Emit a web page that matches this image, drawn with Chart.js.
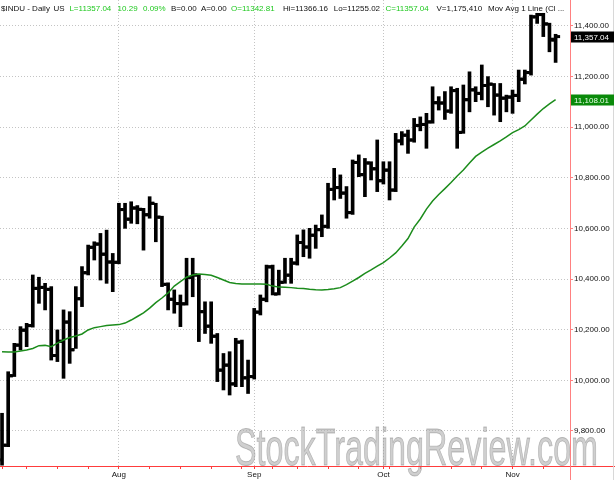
<!DOCTYPE html>
<html><head><meta charset="utf-8">
<script src="https://cdn.jsdelivr.net/npm/chart.js@4"></script>
<style>html,body{margin:0;padding:0;background:#fff}#wrap{width:615px;height:480px;position:relative}</style>
</head><body><div id="wrap"><canvas id="c" width="615" height="480"></canvas></div>
<script>
const dates = [
 '2010-07-06','2010-07-07','2010-07-08','2010-07-09','2010-07-12','2010-07-13','2010-07-14','2010-07-15','2010-07-16','2010-07-19',
 '2010-07-20','2010-07-21','2010-07-22','2010-07-23','2010-07-26','2010-07-27','2010-07-28','2010-07-29','2010-07-30','2010-08-02',
 '2010-08-03','2010-08-04','2010-08-05','2010-08-06','2010-08-09','2010-08-10','2010-08-11','2010-08-12','2010-08-13','2010-08-16',
 '2010-08-17','2010-08-18','2010-08-19','2010-08-20','2010-08-23','2010-08-24','2010-08-25','2010-08-26','2010-08-27','2010-08-30',
 '2010-08-31','2010-09-01','2010-09-02','2010-09-03','2010-09-07','2010-09-08','2010-09-09','2010-09-10','2010-09-13','2010-09-14',
 '2010-09-15','2010-09-16','2010-09-17','2010-09-20','2010-09-21','2010-09-22','2010-09-23','2010-09-24','2010-09-27','2010-09-28',
 '2010-09-29','2010-09-30','2010-10-01','2010-10-04','2010-10-05','2010-10-06','2010-10-07','2010-10-08','2010-10-11','2010-10-12',
 '2010-10-13','2010-10-14','2010-10-15','2010-10-18','2010-10-19','2010-10-20','2010-10-21','2010-10-22','2010-10-25','2010-10-26',
 '2010-10-27','2010-10-28','2010-10-29','2010-11-01','2010-11-02','2010-11-03','2010-11-04','2010-11-05','2010-11-08','2010-11-09',
 '2010-11-10'];
const opens = [
 9686,9744,10018,10139,10198,10216,10363,10367,10359,10098,
 10154,10230,10121,10322,10425,10525,10538,10498,10467,10466,
 10674,10636,10680,10675,10654,10699,10644,10379,10320,10303,
 10302,10406,10416,10271,10214,10174,10040,10060,9986,10151,
 10010,10015,10269,10320,10448,10341,10387,10415,10463,10544,
 10526,10573,10595,10608,10754,10761,10739,10662,10860,10812,
 10858,10835,10788,10830,10751,10945,10968,10949,11006,11010,
 11020,11096,11095,11063,11144,10979,11108,11147,11133,11164,
 11169,11126,11114,11118,11125,11189,11215,11435,11444,11407,
 11342.81];
const highs = [
 9870,10034,10146,10212,10225,10416,10407,10383,10370,10199,
 10278,10271,10370,10449,10534,10547,10580,10593,10501,10699,
 10699,10705,10690,10679,10725,10699,10648,10385,10357,10337,
 10482,10482,10416,10310,10310,10185,10106,10113,10166,10159,
 10080,10284,10337,10455,10455,10435,10482,10482,10574,10594,
 10600,10613,10653,10778,10837,10811,10765,10870,10890,10876,
 10863,10949,10863,10863,10975,10982,10988,11034,11040,11054,
 11159,11120,11140,11159,11153,11166,11218,11159,11245,11199,
 11172,11172,11126,11146,11225,11225,11442,11449,11449,11410,
 11366.16];
const lows = [
 9665,9738,10015,10120,10133,10210,10304,10278,10080,10074,
 10008,10067,10126,10291,10416,10475,10396,10383,10350,10460,
 10600,10620,10618,10514,10640,10547,10370,10278,10265,10212,
 10297,10330,10153,10185,10146,9995,9962,9942,9975,9975,
 9948,10005,10258,10310,10337,10337,10383,10383,10455,10488,
 10482,10521,10567,10600,10712,10718,10640,10655,10804,10725,
 10791,10745,10775,10712,10745,10929,10896,10940,10985,10916,
 11015,11067,11030,11054,10916,10975,11060,11100,11107,11080,
 11047,11021,11060,11054,11100,11170,11205,11409,11357,11297,
 11255.02];
const closes = [
 9743.62,10018.28,10138.99,10198.03,10216.27,10363.02,10366.72,10359.31,10097.90,10154.43,
 10229.96,10120.53,10322.30,10424.62,10525.43,10537.69,10497.88,10467.16,10465.94,10674.38,
 10636.38,10680.43,10674.98,10653.56,10698.75,10644.25,10378.83,10319.95,10303.15,10302.01,
 10405.85,10415.54,10271.21,10213.62,10174.41,10040.45,10060.06,9985.81,10150.65,10009.73,
 10014.72,10269.47,10320.10,10447.93,10340.69,10387.01,10415.24,10462.77,10544.13,10526.49,
 10572.73,10594.83,10607.85,10753.62,10761.03,10739.31,10662.42,10860.26,10812.04,10858.14,
 10835.28,10788.05,10829.68,10751.27,10944.72,10967.65,10948.58,11006.48,11010.34,11020.40,
 11096.08,11094.57,11062.78,11143.69,10978.62,11107.97,11146.57,11132.56,11164.05,11169.46,
 11126.28,11113.95,11118.49,11124.62,11188.72,11215.13,11434.84,11444.08,11406.84,11346.75,
 11357.04];
const movAvg = [
 10113,10112,10112,10116,10120,10126,10137,10138,10133,10147,
 10159,10169,10175,10183,10199,10208,10212,10216,10218,10220,
 10226,10238,10252,10266,10285,10307,10325,10345,10372,10390,
 10407,10416,10420,10418,10415,10406,10396,10386,10382,10380,
 10380,10380,10380,10379,10372,10368,10367,10366,10364,10363,
 10360,10358,10357,10359,10362,10366,10378,10392,10406,10422,
 10436,10451,10465,10483,10503,10530,10560,10605,10637,10676,
 10708,10734,10757,10781,10807,10830,10858,10884,10901,10917,
 10931,10945,10961,10978,10990,11004,11028,11051,11073,11091,
 11108.01];
const volumeText = 'V=1,175,410';
const yTickValues = [9800,10000,10200,10400,10600,10800,11000,11200,11400];
const monthLabels = ['Aug','Sep','Oct','Nov'];
const monthStartIdx = [19,41,62,83];
const weekTickIdx = [0,4,9,14,19,24,29,34,39,41,44,48,53,58,62,63,68,73,78,83,88];

const FONT = '"Liberation Sans", Arial, sans-serif';
const fmt = v => { const s = Number(v).toFixed(2); const p = s.split('.'); return p[0].replace(/\B(?=(\d{3})+(?!\d))/g, ',') + '.' + p[1]; };

const watermark = {
  id: 'watermark',
  beforeDatasetsDraw(chart) {
    const {ctx, chartArea: ca} = chart;
    ctx.save();
    ctx.font = '52px ' + FONT;
    const wm = 'StockTradingReview.com';
    const w = ctx.measureText(wm).width;
    ctx.translate(235, ca.bottom - 1);
    ctx.scale(363 / w, 1);
    ctx.textBaseline = 'alphabetic';
    ctx.fillStyle = 'rgba(175,175,175,0.6)';
    ctx.fillText(wm, 0, 0);
    ctx.lineWidth = 0.9;
    ctx.strokeStyle = 'rgba(120,120,120,0.45)';
    ctx.strokeText(wm, 0, 0);
    ctx.restore();
  }
};

const ohlcTicks = {
  id: 'ohlcTicks',
  afterDatasetDraw(chart, args) {
    if (args.index !== 1) return;
    const {ctx, scales: {x, y}} = chart;
    ctx.save();
    ctx.fillStyle = '#000';
    for (let i = 0; i < dates.length; i++) {
      const px = x.getPixelForValue(i);
      const yo = y.getPixelForValue(opens[i]);
      const yc = y.getPixelForValue(closes[i]);
      ctx.fillRect(px - 4.5, yo - 1.5, 3.2, 3);
      ctx.fillRect(px + 1.3, yc - 1.5, 3.2, 3);
    }
    ctx.restore();
  }
};

const decor = {
  id: 'decor',
  afterDraw(chart) {
    const {ctx, chartArea: ca, scales: {y}} = chart;
    const W = chart.width, H = chart.height;
    ctx.save();
    ctx.lineWidth = 1;
    ctx.strokeStyle = '#ff3c3c';
    ctx.beginPath(); ctx.moveTo(0, ca.bottom + 0.5); ctx.lineTo(W, ca.bottom + 0.5); ctx.stroke();
    ctx.strokeStyle = '#ff8080';
    ctx.beginPath(); ctx.moveTo(ca.right + 0.5, 0); ctx.lineTo(ca.right + 0.5, H); ctx.stroke();
    ctx.strokeStyle = '#d8d8d8';
    ctx.beginPath(); ctx.moveTo(W - 1.5, 0); ctx.lineTo(W - 1.5, H); ctx.stroke();
    const n = closes.length - 1;
    const chg = closes[n] - closes[n - 1];
    const pct = chg / closes[n - 1] * 100;
    const green = '#1ec81e', dark = '#111';
    const segs = [
      ['$INDU - Daily', 1, dark], ['US', 53.5, dark],
      ['L=' + closes[n].toFixed(2), 69.4, green], [chg.toFixed(2), 117.6, green], [pct.toFixed(2) + '%', 143, green],
      ['B=0.00', 171, dark], ['A=0.00', 201, dark],
      ['O=' + opens[n].toFixed(2), 231, green], ['Hi=' + highs[n].toFixed(2), 283, dark],
      ['Lo=' + lows[n].toFixed(2), 333.7, dark], ['C=' + closes[n].toFixed(2), 385.5, green],
      [volumeText, 436.5, dark], ['Mov Avg 1 Line (Cl ...', 488, dark]
    ];
    ctx.font = '8px ' + FONT;
    ctx.textBaseline = 'middle';
    ctx.textAlign = 'left';
    segs.forEach(s => { ctx.fillStyle = s[2]; ctx.fillText(s[0], s[1], 8.5); });
    const badge = (val, bg, fg) => {
      const py = Math.round(y.getPixelForValue(val));
      ctx.fillStyle = bg;
      ctx.fillRect(ca.right + 1, py - 5.5, 43, 11);
      ctx.fillStyle = fg;
      ctx.fillText(fmt(val), ca.right + 4, py + 0.5);
    };
    badge(closes[n], '#000', '#fff');
    badge(movAvg[n], '#0a8a0a', '#e8ffe8');
    ctx.restore();
  }
};

const barData = dates.map((d, i) => ({x: i, y: [lows[i], highs[i]]}));
const maData = dates.map((d, i) => ({x: i, y: movAvg[i]}));

new Chart(document.getElementById('c'), {
  type: 'bar',
  data: {
    datasets: [
      {type: 'line', label: 'Mov Avg', data: maData, borderColor: '#1c8c1c', borderWidth: 1.5, pointRadius: 0, tension: 0, order: 0},
      {type: 'bar', label: '$INDU', data: barData, backgroundColor: '#000', borderWidth: 0, barThickness: 3, order: 1}
    ]
  },
  options: {
    responsive: false, animation: false, devicePixelRatio: 1,
    layout: {padding: 0},
    plugins: {legend: {display: false}, tooltip: {enabled: false}},
    scales: {
      x: {
        type: 'linear', min: -0.33, max: 92.34, position: 'bottom', offset: false,
        afterBuildTicks: s => { s.ticks = weekTickIdx.map(v => ({value: v})); },
        afterFit: s => { s.height = 14; s.paddingLeft = 0; s.paddingRight = 0; },
        ticks: {
          autoSkip: false, maxRotation: 0, minRotation: 0, padding: 1, color: '#111',
          font: {family: FONT, size: 8},
          callback: v => { const k = monthStartIdx.indexOf(v); return k >= 0 ? monthLabels[k] : ''; }
        },
        grid: {
          offset: false,
          color: c => (c.tick && monthStartIdx.includes(c.tick.value)) ? '#c4c4c4' : 'rgba(0,0,0,0)',
          tickColor: '#ff3c3c', tickLength: 3, lineWidth: 1
        },
        border: {display: false, dash: [1, 2]}
      },
      y: {
        position: 'right', min: 9661.8, max: 11501.5,
        afterBuildTicks: s => { s.ticks = yTickValues.map(v => ({value: v})); },
        afterFit: s => { s.width = 45; s.paddingTop = 0; s.paddingBottom = 0; },
        ticks: {padding: 1, color: '#111', font: {family: FONT, size: 8}, callback: v => fmt(v)},
        grid: {color: '#c4c4c4', tickColor: '#ff8080', tickLength: 3, lineWidth: 1},
        border: {display: false, dash: [1, 2]}
      }
    }
  },
  plugins: [watermark, ohlcTicks, decor]
});
</script>
</body></html>
